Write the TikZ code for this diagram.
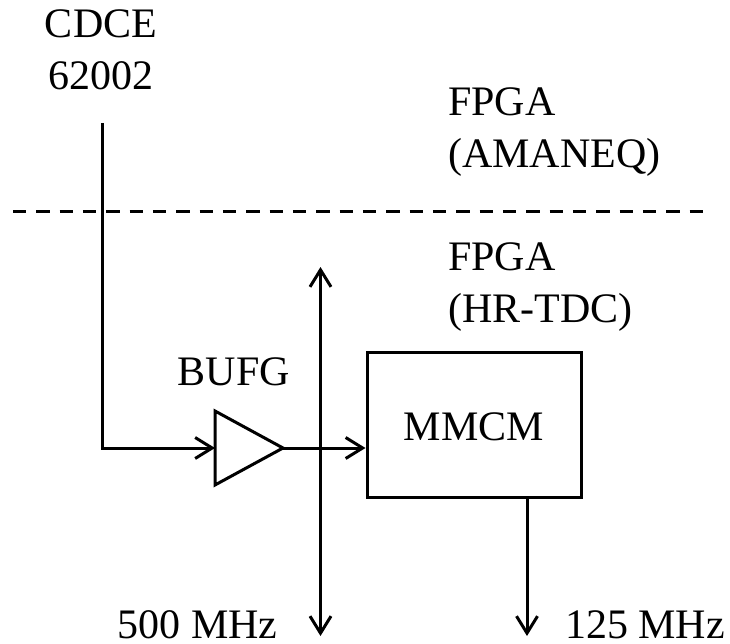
\documentclass[tikz,border=0pt]{standalone}
\usepackage{fontspec}
\setmainfont{Liberation Serif}
\usetikzlibrary{arrows.meta,positioning,calc,shapes.geometric}

\begin{document}
\begin{tikzpicture}[x=1pt,y=-1pt,>={Straight Barb[length=17pt,width=21pt,line width=3pt]},
    lbl/.style={font=\fontsize{42}{52}\selectfont,align=center,inner sep=0pt},
    wire/.style={line width=3pt}]
  \useasboundingbox (0,0) rectangle (730,644);

  \node[lbl] (cdce) at (101,50) {CDCE\\62002};
  \node[lbl,anchor=west,align=left] (amaneq) at (448,132) {FPGA\\(AMANEQ)};
  \node[lbl,anchor=west,align=left] (hrtdc) at (448,287) {FPGA\\(HR-TDC)};
  \node[lbl] (bufg) at (234,371.5) {BUFG};
  \node[lbl] (lowfreq) at (197.5,625) {500 MHz};
  \node[lbl] (highfreq) at (645,625) {125 MHz};

  \node[draw,wire,lbl,minimum width=214pt,minimum height=145pt,text height=33pt]
       (mmcm) at (474,424.5) {MMCM};

  \coordinate (buf1) at (215,411);
  \coordinate (buf2) at (215,485);
  \coordinate (buf3) at (283,448);
  \draw[wire] (buf1) -- (buf2) -- (buf3) -- cycle;

  % dashed boundary
  \coordinate (dashl) at (13,212);
  \coordinate (dashr) at (703,212);
  \draw[wire,dash pattern=on 13.33pt off 10pt] (dashl) -- (dashr);

  \coordinate (clkin) at (102,123);
  \coordinate (clkturn) at (102,448);
  \draw[wire,->] (clkin) -- (clkturn) -- (buf1 |- buf3);

  \draw[wire,->] (buf3) -- (mmcm.west |- buf3);

  \coordinate (bustop) at (320.5,267);
  \coordinate (busbot) at (320.5,636);
  \draw[wire,<->] (bustop) -- (busbot);

  \coordinate (outend) at (527,636);
  \draw[wire,->] (outend |- mmcm.south) -- (outend);
\end{tikzpicture}
\end{document}
